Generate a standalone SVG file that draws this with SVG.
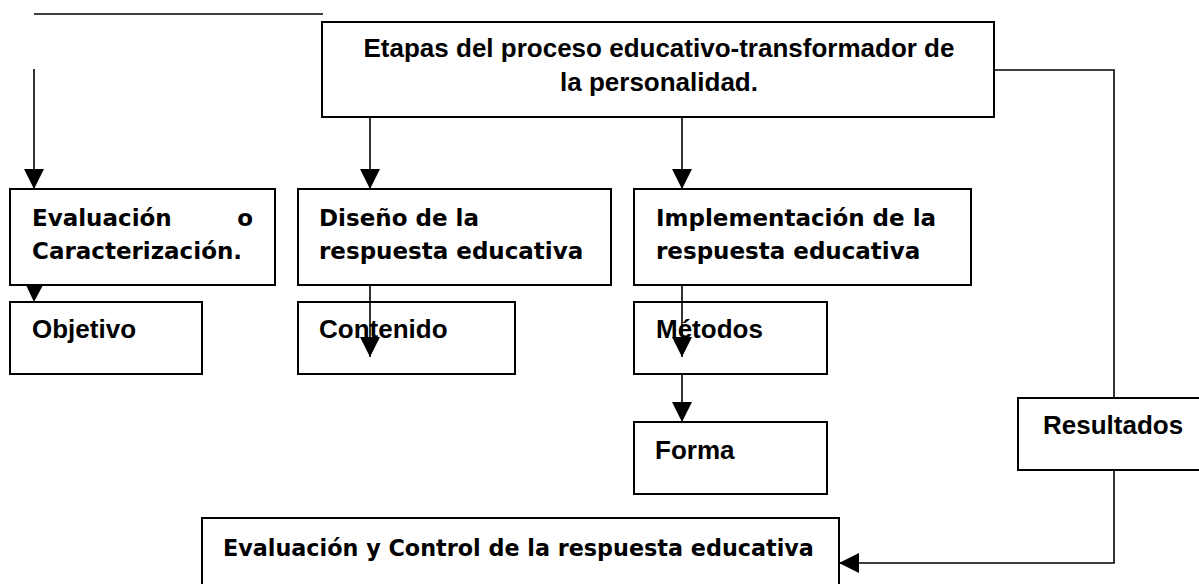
<svg xmlns="http://www.w3.org/2000/svg" width="1199" height="584" viewBox="0 0 1199 584">
  <style>
    .box { fill: #fff; stroke: #000; stroke-width: 2; }
    .a { font-family: "Liberation Sans", Arial, sans-serif; font-weight: bold; font-size: 26px; fill: #000; }
    .t { font-family: "DejaVu Sans", Verdana, sans-serif; font-weight: bold; font-size: 23px; fill: #000; }
    .ln { fill: none; stroke: #000; stroke-width: 1.6; }
  </style>
  <defs>
    <marker id="ah" markerUnits="userSpaceOnUse" markerWidth="20" markerHeight="20" refX="20" refY="10" orient="auto" viewBox="0 0 20 20">
      <path d="M0,0 L20,10 L0,20 Z" fill="#000"/>
    </marker>
  </defs>

  <rect width="1199" height="584" fill="#fff"/>

  <g id="node-main">
    <rect class="box" x="322" y="22" width="672" height="95"/>
    <text class="a" x="659" y="57" text-anchor="middle">Etapas del proceso educativo-transformador de</text>
    <text class="a" x="659" y="91" text-anchor="middle">la personalidad.</text>
  </g>

  <g id="node-evaluacion">
    <rect class="box" x="10" y="189" width="265" height="96"/>
    <text class="t" x="32" y="226">Evaluación</text>
    <text class="t" x="253" y="226" text-anchor="end">o</text>
    <text class="t" x="32" y="259">Caracterización.</text>
  </g>

  <g id="node-diseno">
    <rect class="box" x="298" y="189" width="313" height="96"/>
    <text class="t" x="319" y="226">Diseño de la</text>
    <text class="t" x="319" y="259">respuesta educativa</text>
  </g>

  <g id="node-implementacion">
    <rect class="box" x="634" y="189" width="337" height="96"/>
    <text class="t" x="656" y="226">Implementación de la</text>
    <text class="t" x="656" y="259">respuesta educativa</text>
  </g>

  <g id="node-objetivo">
    <rect class="box" x="10" y="302" width="192" height="72"/>
    <text class="a" x="32" y="338">Objetivo</text>
  </g>

  <g id="node-contenido">
    <rect class="box" x="298" y="302" width="217" height="72"/>
    <text class="a" x="319" y="338">Contenido</text>
  </g>

  <g id="node-metodos">
    <rect class="box" x="634" y="302" width="193" height="72"/>
    <text class="a" x="656" y="338">Métodos</text>
  </g>

  <g id="node-forma">
    <rect class="box" x="634" y="422" width="193" height="72"/>
    <text class="a" x="655" y="459">Forma</text>
  </g>

  <g id="node-resultados">
    <rect class="box" x="1018" y="398" width="200" height="72"/>
    <text class="a" x="1043" y="434">Resultados</text>
  </g>

  <g id="node-control">
    <rect class="box" x="202" y="518" width="637" height="80"/>
    <text class="t" x="223" y="556" style="font-size:22.3px">Evaluación y Control de la respuesta educativa</text>
  </g>

  <g id="connectors">
    <line class="ln" x1="34" y1="14" x2="323" y2="14"/>
    <line class="ln" x1="34" y1="69" x2="34" y2="189" marker-end="url(#ah)"/>
    <line class="ln" x1="370" y1="117" x2="370" y2="189" marker-end="url(#ah)"/>
    <line class="ln" x1="682" y1="117" x2="682" y2="189" marker-end="url(#ah)"/>
    <polygon points="26,285 43,285 34,302" fill="#000"/>
    <line class="ln" x1="370" y1="285" x2="370" y2="357" marker-end="url(#ah)"/>
    <line class="ln" x1="682" y1="285" x2="682" y2="357" marker-end="url(#ah)"/>
    <line class="ln" x1="682" y1="374" x2="682" y2="422" marker-end="url(#ah)"/>
    <polyline class="ln" points="994,70 1114,70 1114,398"/>
    <polyline class="ln" points="1114,470 1114,563 839,563" marker-end="url(#ah)"/>
  </g>
</svg>
